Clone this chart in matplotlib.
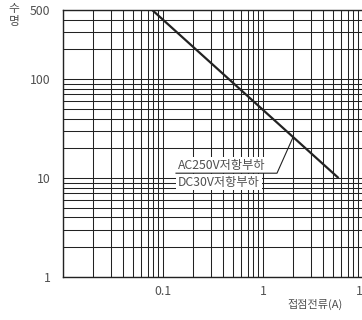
import numpy as np
import matplotlib.pyplot as plt
from matplotlib.ticker import FixedLocator, LogLocator, NullFormatter

plt.rcParams['font.family'] = ['Noto Sans CJK KR', 'DejaVu Sans']

# life curve (current in A, operations)
current = [0.078, 5.7]
life = [500, 10]

xticks = [0.1, 1, 10]
xtick_labels = ['0.1', '1', '10']
yticks = [1, 10, 100, 500]
ytick_labels = ['1', '10', '100', '500']

ink = '#222222'
txt = '#505050'

fig = plt.figure(figsize=(3.62, 3.2), dpi=100)
ax = fig.add_axes([63 / 362, 43 / 320, 300 / 362, 267 / 320])
ax.set_xscale('log')
ax.set_yscale('log')
ax.set_xlim(0.01, 10)
ax.set_ylim(1, 500)

ax.xaxis.set_major_locator(FixedLocator(xticks))
ax.set_xticklabels(xtick_labels)
ax.yaxis.set_major_locator(FixedLocator(yticks))
ax.set_yticklabels(ytick_labels)
ax.xaxis.set_minor_locator(LogLocator(base=10, subs=np.arange(1, 10), numticks=20))
ax.yaxis.set_minor_locator(LogLocator(base=10, subs=np.arange(1, 10), numticks=20))
ax.xaxis.set_minor_formatter(NullFormatter())
ax.yaxis.set_minor_formatter(NullFormatter())
ax.tick_params(which='both', length=0, labelsize=8.8, labelcolor=txt)
ax.tick_params(axis='x', pad=6)
ax.tick_params(axis='y', pad=9)

ax.grid(which='both', color=ink, linewidth=0.75)
ax.set_axisbelow(True)
for s in ax.spines.values():
    s.set_color(ink)
    s.set_linewidth(1.0)

ax.plot(current, life, color=ink, linewidth=1.6, zorder=3, solid_capstyle='butt')

# leader from the label rule up to the curve at 2 A
lead_x = 2.0
lead_y = 10 ** np.interp(np.log10(lead_x), np.log10(current), np.log10(life))
ax.plot([0.135, 1.38, lead_x], [11.2, 11.2, lead_y], color=ink, linewidth=0.8, zorder=6)
ax.text(0.141, 13.5, 'AC250V저항부하', fontsize=8.8, color=txt, va='center', ha='left', zorder=5,
        bbox=dict(facecolor='white', edgecolor='none', pad=1.2))
ax.text(0.141, 9.1, 'DC30V저항부하', fontsize=8.8, color=txt, va='center', ha='left', zorder=5,
        bbox=dict(facecolor='white', edgecolor='none', pad=1.2))

fig.text(315 / 362, 1 - 304 / 320, '접점전류(A)', fontsize=8, color=txt, ha='center', va='center')
fig.text(14 / 362, 1 - 15 / 320, '수\n명', fontsize=8.5, color=txt, ha='center', va='center',
         linespacing=0.95)

fig.savefig('out.png', dpi=100)
